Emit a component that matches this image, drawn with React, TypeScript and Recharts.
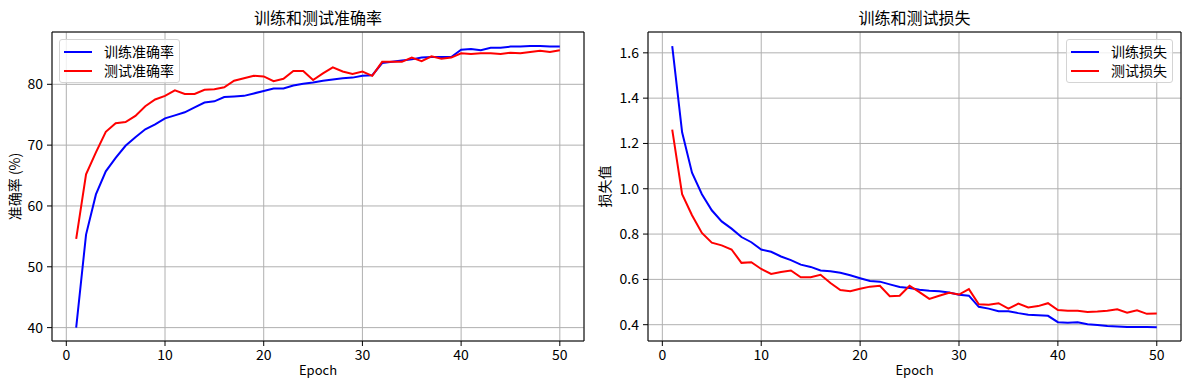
import React from 'react';
import {
  LineChart,
  Line,
  XAxis,
  YAxis,
  CartesianGrid,
  Legend,
  ReferenceLine,
} from 'recharts';

const epochs = [
  1, 2, 3, 4, 5, 6, 7, 8, 9, 10, 11, 12, 13, 14, 15, 16, 17, 18, 19, 20, 21, 22, 23, 24, 25,
  26, 27, 28, 29, 30, 31, 32, 33, 34, 35, 36, 37, 38, 39, 40, 41, 42, 43, 44, 45, 46, 47, 48, 49, 50,
];

const trainAcc = [
  40.0, 55.3, 61.9, 65.7, 67.9, 69.9, 71.3, 72.6, 73.4, 74.4, 74.9, 75.4, 76.2, 77.0, 77.2, 77.9,
  78.0, 78.1, 78.5, 78.9, 79.3, 79.3, 79.8, 80.1, 80.3, 80.6, 80.8, 81.0, 81.1, 81.4, 81.5, 83.5,
  83.7, 83.9, 84.1, 84.4, 84.5, 84.5, 84.5, 85.7, 85.8, 85.6, 86.0, 86.0, 86.2, 86.2, 86.3, 86.3,
  86.2, 86.2,
];
const testAcc = [
  54.6, 65.2, 68.8, 72.2, 73.6, 73.8, 74.8, 76.4, 77.5, 78.1, 79.0, 78.4, 78.4, 79.1, 79.2, 79.5,
  80.6, 81.0, 81.4, 81.3, 80.5, 80.9, 82.2, 82.2, 80.7, 81.8, 82.8, 82.1, 81.7, 82.1, 81.4, 83.7,
  83.7, 83.7, 84.4, 83.8, 84.6, 84.2, 84.4, 85.1, 85.0, 85.1, 85.1, 85.0, 85.2, 85.1, 85.3, 85.5,
  85.3, 85.6,
];
const trainLoss = [
  1.63, 1.249, 1.071, 0.976, 0.905, 0.856, 0.824, 0.787, 0.764, 0.732, 0.722, 0.701, 0.685, 0.665,
  0.655, 0.639, 0.636, 0.629, 0.618, 0.605, 0.593, 0.59, 0.578, 0.566, 0.562, 0.554, 0.55, 0.548,
  0.542, 0.532, 0.528, 0.479, 0.471, 0.459, 0.459, 0.451, 0.444, 0.442, 0.439, 0.411, 0.409, 0.411,
  0.402, 0.399, 0.394, 0.392, 0.39, 0.39, 0.39, 0.389,
];
const testLoss = [
  1.261, 0.976, 0.883, 0.805, 0.762, 0.75, 0.732, 0.673, 0.676, 0.646, 0.624, 0.633, 0.639, 0.609,
  0.609, 0.62, 0.584, 0.553, 0.548, 0.559, 0.568, 0.572, 0.526, 0.528, 0.572, 0.544, 0.514, 0.528,
  0.541, 0.533, 0.557, 0.49, 0.488, 0.495, 0.471, 0.493, 0.476, 0.482, 0.495, 0.465, 0.461, 0.461,
  0.456, 0.458, 0.462, 0.468, 0.453, 0.464, 0.448, 0.449,
];

const xTicks = [0, 10, 20, 30, 40, 50];
const accTicks = [40, 50, 60, 70, 80];
const lossTicks = [0.4, 0.6, 0.8, 1.0, 1.2, 1.4, 1.6];
const xDomain: [number, number] = [-1.45, 52.45];

const accData = epochs.map((e, i) => ({ epoch: e, train: trainAcc[i], test: testAcc[i] }));
const lossData = epochs.map((e, i) => ({ epoch: e, train: trainLoss[i], test: testLoss[i] }));

const FONT = '"Noto Sans CJK SC", "Noto Sans", sans-serif';
const tickStyle = { fill: '#000', fontSize: 14 };

function BoxLegend({ payload }: any) {
  // keep plotting order: train first, then test
  const items = [...(payload || [])].sort((a: any, b: any) =>
    a.dataKey === 'train' ? -1 : b.dataKey === 'train' ? 1 : 0
  );
  return (
    <div
      style={{
        border: '1px solid #d4d4d4',
        borderRadius: 3,
        background: 'rgba(255,255,255,0.8)',
        padding: '2px 5px 2px 4px',
        fontSize: 14,
        color: '#000',
      }}
    >
      {items.map((p: any) => (
        <div key={p.value} style={{ display: 'flex', alignItems: 'center', height: 19 }}>
          <span style={{ width: 28, height: 2, background: p.color, marginRight: 12 }} />
          <span style={{ lineHeight: '19px' }}>{p.value}</span>
        </div>
      ))}
    </div>
  );
}

interface PanelProps {
  data: { epoch: number; train: number; test: number }[];
  width: number;
  yWidth: number;
  rightMargin: number;
  yDomain: [number, number];
  yTicks: number[];
  yFormat?: (v: number) => string;
  title: string;
  yLabel: string;
  trainName: string;
  testName: string;
  legendPos: React.CSSProperties;
}

function Panel(props: PanelProps) {
  const { data, width, yWidth, rightMargin, yDomain, yTicks, yFormat } = props;
  return (
    <LineChart
      width={width}
      height={390}
      data={data}
      margin={{ top: 32, right: rightMargin, bottom: 0, left: 0 }}
    >
      <CartesianGrid stroke="#b0b0b0" strokeWidth={1} />
      <XAxis
        dataKey="epoch"
        type="number"
        domain={xDomain}
        ticks={xTicks}
        allowDataOverflow
        height={49}
        tick={tickStyle}
        tickSize={5}
        tickMargin={4}
        axisLine={{ stroke: '#000' }}
        tickLine={{ stroke: '#000' }}
        label={{ value: 'Epoch', position: 'insideBottom', offset: 15, fontSize: 13, fill: '#000' }}
      />
      <YAxis
        type="number"
        domain={yDomain}
        ticks={yTicks}
        allowDataOverflow
        width={yWidth}
        tick={tickStyle}
        tickSize={5}
        tickMargin={4}
        tickFormatter={yFormat}
        axisLine={{ stroke: '#000' }}
        tickLine={{ stroke: '#000' }}
        label={{
          value: props.yLabel,
          angle: -90,
          position: 'insideLeft',
          offset: 15,
          fontSize: 14,
          fill: '#000',
          style: { textAnchor: 'middle' },
        }}
      />
      {/* top and right spines, title sits on the top one */}
      <ReferenceLine
        y={yDomain[1]}
        stroke="#000"
        strokeWidth={1}
        ifOverflow="visible"
        label={{ value: props.title, position: 'top', offset: 8, fontSize: 16, fill: '#000' }}
      />
      <ReferenceLine x={xDomain[1]} stroke="#000" strokeWidth={1} ifOverflow="visible" />
      <Legend
        layout="horizontal"
        verticalAlign="middle"
        align="center"
        content={<BoxLegend />}
        wrapperStyle={{ width: 'auto', ...props.legendPos }}
      />
      <Line
        type="linear"
        dataKey="train"
        name={props.trainName}
        stroke="#0000ff"
        strokeWidth={2}
        dot={false}
        isAnimationActive={false}
      />
      <Line
        type="linear"
        dataKey="test"
        name={props.testName}
        stroke="#ff0000"
        strokeWidth={2}
        dot={false}
        isAnimationActive={false}
      />
    </LineChart>
  );
}

export default function App() {
  return (
    <div
      style={{
        position: 'absolute',
        left: 0,
        top: 0,
        width: 1189,
        height: 390,
        background: '#fff',
        fontFamily: FONT,
      }}
    >
      <div style={{ position: 'absolute', left: 0, top: 0 }}>
        <Panel
          data={accData}
          width={590}
          yWidth={52}
          rightMargin={6}
          yDomain={[37.8, 88.6]}
          yTicks={accTicks}
          title="训练和测试准确率"
          yLabel="准确率 (%)"
          trainName="训练准确率"
          testName="测试准确率"
          legendPos={{ top: 39, left: 59 }}
        />
      </div>
      <div style={{ position: 'absolute', left: 590, top: 0 }}>
        <Panel
          data={lossData}
          width={599}
          yWidth={58}
          rightMargin={8}
          yDomain={[0.328, 1.692]}
          yTicks={lossTicks}
          yFormat={(v: number) => v.toFixed(1)}
          title="训练和测试损失"
          yLabel="损失值"
          trainName="训练损失"
          testName="测试损失"
          legendPos={{ top: 39, right: 16, left: 'auto' }}
        />
      </div>
    </div>
  );
}
